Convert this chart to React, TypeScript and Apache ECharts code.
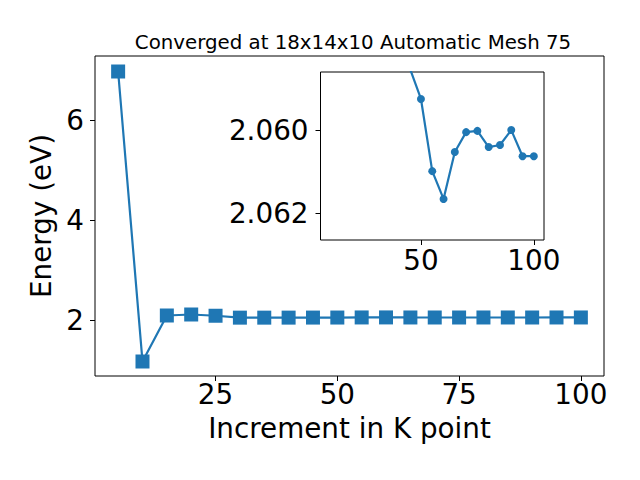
import React, { useEffect, useRef } from "react";
import * as echarts from "echarts";

const kPoints = [5, 10, 15, 20, 25, 30, 35, 40, 45, 50, 55, 60, 65, 70, 75, 80, 85, 90, 95, 100];
const energies = [
  6.98, 1.18, 2.1, 2.12, 2.095, 2.057, 2.057, 2.0575, 2.0585, 2.05925, 2.06099, 2.06166,
  2.06053, 2.06005, 2.06002, 2.06041, 2.06036, 2.06, 2.06063, 2.06063,
];
const insetStartK = 45;
const mainXTicks = [25, 50, 75, 100];
const mainYTicks = [2, 4, 6];
const insetXTicks = [50, 100];
const insetYTicks = [2.06, 2.062];

const titleText = "Converged at 18x14x10 Automatic Mesh 75";
const xName = "Increment in K point";
const yName = "Energy (eV)";

const BLUE = "#1f77b4";
const FONT = "DejaVu Sans";
const FS = 27.8;

export default function App() {
  const ref = useRef<HTMLDivElement>(null);
  useEffect(() => {
    if (!ref.current) return;
    const chart = echarts.init(ref.current, undefined, { renderer: "svg" });
    const pts = kPoints.map((k, i) => [k, energies[i]]);
    const insetPts = pts.filter((p) => p[0] >= insetStartK);
    const tickLabel = { fontFamily: FONT, fontSize: FS, color: "#000" };
    chart.setOption({
      animation: false,
      backgroundColor: "#fff",
      title: {
        text: titleText,
        left: 348,
        textAlign: "center",
        top: 27,
        textStyle: { fontFamily: FONT, fontSize: 19.8, fontWeight: "normal", color: "#000" },
      },
      grid: [
        { left: 95, top: 56, width: 509, height: 320, show: true, borderColor: "#000", borderWidth: 1, backgroundColor: "#fff", containLabel: false },
        { left: 320.5, top: 72, width: 223.5, height: 168, show: true, borderColor: "#000", borderWidth: 1, backgroundColor: "#fff", containLabel: false },
      ],
      xAxis: [
        {
          type: "value", gridIndex: 0, min: 0.25, max: 104.75,
          splitLine: { show: false }, axisLine: { show: false },
          axisTick: { show: true, length: 5, inside: false, customValues: mainXTicks, lineStyle: { color: "#000" } },
          axisLabel: { ...tickLabel, margin: 4, customValues: mainXTicks },
          name: xName, nameLocation: "middle", nameGap: 38,
          nameTextStyle: { fontFamily: FONT, fontSize: FS, color: "#000" },
        },
        {
          type: "value", gridIndex: 1, min: 5.5, max: 104.5,
          splitLine: { show: false }, axisLine: { show: false },
          axisTick: { show: true, length: 5, inside: false, customValues: insetXTicks, lineStyle: { color: "#000" } },
          axisLabel: { ...tickLabel, margin: 6, customValues: insetXTicks },
        },
      ],
      yAxis: [
        {
          type: "value", gridIndex: 0, min: 0.89, max: 7.29,
          splitLine: { show: false }, axisLine: { show: false },
          axisTick: { show: true, length: 5, inside: false, customValues: mainYTicks, lineStyle: { color: "#000" } },
          axisLabel: { ...tickLabel, margin: 11, customValues: mainYTicks },
          name: yName, nameLocation: "middle", nameGap: 37, nameRotate: 90,
          nameTextStyle: { fontFamily: FONT, fontSize: FS, color: "#000" },
        },
        {
          type: "value", gridIndex: 1, min: 2.0586, max: 2.06265, inverse: true,
          splitLine: { show: false }, axisLine: { show: false },
          axisTick: { show: true, length: 5, inside: false, customValues: insetYTicks, lineStyle: { color: "#000" } },
          axisLabel: { ...tickLabel, margin: 12, customValues: insetYTicks, formatter: (v: number) => v.toFixed(3) },
        },
      ],
      series: [
        {
          type: "line", xAxisIndex: 0, yAxisIndex: 0, data: pts,
          symbol: "rect", symbolSize: 14, showAllSymbol: true,
          lineStyle: { color: BLUE, width: 2.2 }, itemStyle: { color: BLUE },
        },
        {
          type: "line", xAxisIndex: 1, yAxisIndex: 1, data: insetPts, clip: true,
          symbol: "circle", symbolSize: 8, showAllSymbol: true,
          lineStyle: { color: BLUE, width: 2.2 }, itemStyle: { color: BLUE },
        },
      ],
    });
    return () => chart.dispose();
  }, []);
  return <div ref={ref} style={{ width: 640, height: 480, position: "absolute", left: 0, top: 0 }} />;
}
